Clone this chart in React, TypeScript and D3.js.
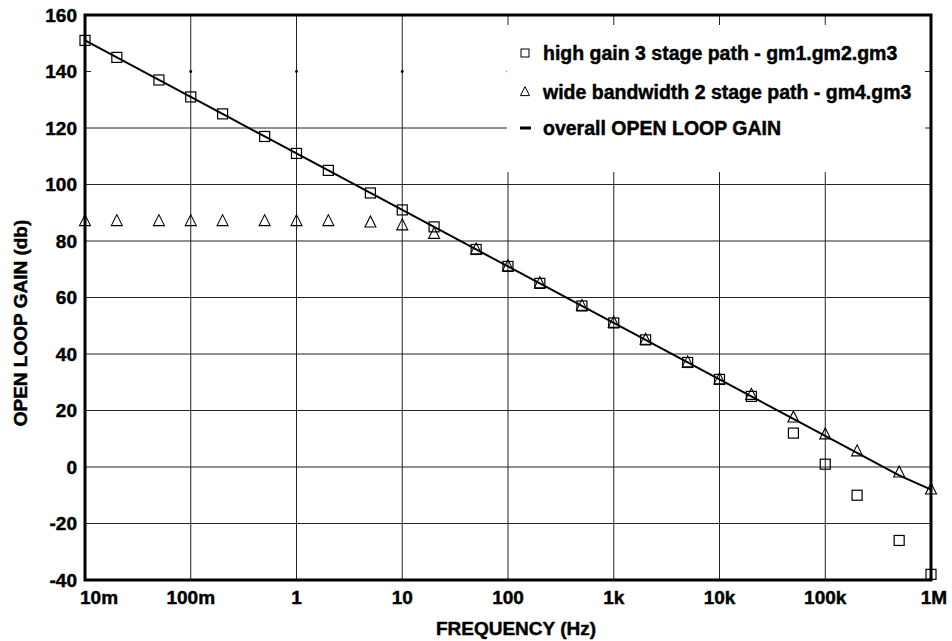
import * as d3 from 'd3';
import React from 'react';

// frequencies (Hz) of the simulated points
const freqs = [0.01, 0.02, 0.05, 0.1, 0.2, 0.5, 1, 2, 5, 10, 20, 50, 100, 200, 500,
  1e3, 2e3, 5e3, 1e4, 2e4, 5e4, 1e5, 2e5, 5e5, 1e6];

// high gain 3 stage path (squares)
const highGain = [151, 145, 137, 131, 125, 117, 111, 105, 97, 91, 85, 77, 71, 65, 57,
  51, 45, 37, 31, 25, 12, 1, -10, -26, -38];

// wide bandwidth 2 stage path (triangles)
const wideBw = [87, 87, 87, 87, 87, 87, 87, 87, 86.5, 85.5, 82.5, 77, 71, 65, 57,
  51, 45, 37, 31, 25.5, 17.5, 11.5, 5.5, -2, -8];

// overall open loop gain (line)
const overall = [151, 145, 137, 131, 125, 117, 111, 105, 97, 91, 85, 77, 71, 65, 57,
  51, 45, 37, 31, 25, 17, 11, 5, -3, -8];

const xTicks = [0.01, 0.1, 1, 10, 100, 1e3, 1e4, 1e5, 1e6];
const xTickLabels = ['10m', '100m', '1', '10', '100', '1k', '10k', '100k', '1M'];
const yTicks = [-40, -20, 0, 20, 40, 60, 80, 100, 120, 140, 160];

const legendLabels = [
  'high gain 3 stage path - gm1.gm2.gm3',
  'wide bandwidth 2 stage path - gm4.gm3',
  'overall OPEN LOOP GAIN',
];

export default function App() {
  const width = 952;
  const height = 641;
  const margin = { top: 15, right: 21, bottom: 61, left: 85 };
  const x0 = margin.left;
  const x1 = width - margin.right;
  const y0 = margin.top;
  const y1 = height - margin.bottom;

  const xScale = d3.scaleLog().domain([0.01, 1e6]).range([x0, x1]);
  const yScale = d3.scaleLinear().domain([-40, 160]).range([y1, y0]);

  const line = d3.line<number>()
    .x((d, i) => xScale(freqs[i]))
    .y((d) => yScale(d));

  const font = '"Liberation Sans", Arial, sans-serif';
  const grid = '#222';

  const tri = (cx: number, cy: number, s: number) =>
    `M${cx},${cy - s * 0.6} L${cx + s / 2},${cy + s * 0.4} L${cx - s / 2},${cy + s * 0.4} Z`;

  // legend box
  const lg = { x: 507, y: 25, w: 418, h: 147 };

  return (
    <svg width={width} height={height} style={{ position: 'absolute', left: 0, top: 0, background: '#fff' }}
      fontFamily={font} fontWeight="bold">
      <rect x={0} y={0} width={width} height={height} fill="#fff" />

      {/* horizontal grid (no line at 140) */}
      {yTicks.filter((t) => t > -40 && t < 160 && t !== 140).map((t) => (
        <line key={'h' + t} x1={x0} x2={x1} y1={yScale(t)} y2={yScale(t)} stroke={grid} strokeWidth={1} />
      ))}
      {/* vertical grid */}
      {xTicks.slice(1, -1).map((t) => (
        <line key={'v' + t} x1={xScale(t)} x2={xScale(t)} y1={y0} y2={y1} stroke={grid} strokeWidth={1} />
      ))}
      {/* ticks and dots for 140 */}
      <line x1={x0} x2={x0 + 6} y1={yScale(140)} y2={yScale(140)} stroke={grid} />
      <line x1={x1 - 6} x2={x1} y1={yScale(140)} y2={yScale(140)} stroke={grid} />
      {xTicks.slice(1, -1).map((t) => (
        <circle key={'d' + t} cx={xScale(t)} cy={yScale(140)} r={1.4} fill="#000" />
      ))}

      {/* legend background hides the grid */}
      <rect x={lg.x} y={lg.y} width={lg.w} height={lg.h} fill="#fff" />

      {/* triangles */}
      {wideBw.map((v, i) => (
        <path key={'t' + i} d={tri(xScale(freqs[i]), yScale(v), 11)} fill="none" stroke="#000" strokeWidth={1.1} />
      ))}
      {/* squares */}
      {highGain.map((v, i) => (
        <rect key={'s' + i} x={xScale(freqs[i]) - 5} y={yScale(v) - 5} width={10} height={10}
          fill="none" stroke="#000" strokeWidth={1.2} />
      ))}
      {/* overall line */}
      <path d={line(overall) || ''} fill="none" stroke="#000" strokeWidth={2} />

      {/* frame */}
      <rect x={x0} y={y0} width={x1 - x0} height={y1 - y0} fill="none" stroke="#000" strokeWidth={3} />

      <g fill="#000" stroke="#000" strokeWidth={0.45}>
        {/* y tick labels */}
        {yTicks.map((t) => (
          <text key={'yl' + t} x={77} y={yScale(t)} dy="0.36em" textAnchor="end" fontSize={19}>{t}</text>
        ))}
        {/* x tick labels */}
        {xTicks.map((t, i) => (
          <text key={'xl' + t} x={i === 0 ? xScale(t) - 5 : xScale(t) + (i === xTicks.length - 1 ? 3 : 0)}
            y={604} textAnchor={i === 0 ? 'start' : 'middle'} fontSize={19}>{xTickLabels[i]}</text>
        ))}

        {/* axis titles */}
        <text x={516} y={635} textAnchor="middle" fontSize={19}>FREQUENCY (Hz)</text>
        <text transform="translate(27,323) rotate(-90)" textAnchor="middle" fontSize={19}>OPEN LOOP GAIN (db)</text>

        {legendLabels.map((s, i) => (
          <text key={'lg' + i} x={543} y={[60, 99, 135][i]} fontSize={19.5}>{s}</text>
        ))}
      </g>

      {/* legend symbols */}
      <rect x={521} y={49} width={8} height={8} fill="none" stroke="#000" strokeWidth={1} />
      <path d={tri(525, 92, 9)} fill="none" stroke="#000" strokeWidth={1} />
      <line x1={520} x2={531} y1={128} y2={128} stroke="#000" strokeWidth={3} />
    </svg>
  );
}
